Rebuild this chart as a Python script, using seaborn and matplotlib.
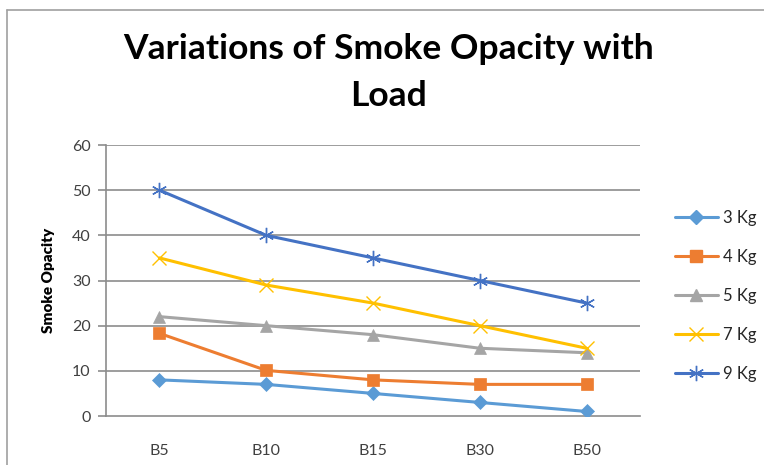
import matplotlib
matplotlib.use("Agg")
import matplotlib.pyplot as plt
import matplotlib.lines as mlines
import seaborn as sns
import pandas as pd

categories = ["B5", "B10", "B15", "B30", "B50"]
series_names = ["3 Kg", "4 Kg", "5 Kg", "7 Kg", "9 Kg"]
load_3kg = [8, 7, 5, 3, 1]
load_4kg = [18.3, 10.1, 8, 7, 7]
load_5kg = [22, 20, 18, 15, 14]
load_7kg = [35, 29, 25, 20, 15]
load_9kg = [50, 40, 35, 30, 25]
y_ticks = [0, 10, 20, 30, 40, 50, 60]

colors = ["#5B9BD5", "#ED7D31", "#A5A5A5", "#FFC000", "#4472C4"]
markers = ["D", "s", "^", "x", (6, 2, 0)]
marker_sizes = [7, 8, 8, 10, 11]

values = [load_3kg, load_4kg, load_5kg, load_7kg, load_9kg]
df = pd.DataFrame(
    [(c, v, name) for name, vals in zip(series_names, values) for c, v in zip(categories, vals)],
    columns=["Blend", "Smoke Opacity", "Load"],
)

sns.set_theme(style="white")
plt.rcParams["font.family"] = ["Lato", "DejaVu Sans"]

fig = plt.figure(figsize=(7.64, 4.65), dpi=100)
ax = fig.add_axes([106 / 764, 1 - 416 / 465, 534 / 764, 271 / 465])

grid_c = "#8C8C8C"
for t in y_ticks[1:]:
    ax.axhline(t, color=grid_c, lw=1.2, zorder=0)

for name, col, mk, ms in zip(series_names, colors, markers, marker_sizes):
    sub = df[df["Load"] == name]
    sns.lineplot(data=sub, x="Blend", y="Smoke Opacity", ax=ax, color=col,
                 marker=mk, markersize=ms, markeredgecolor=col,
                 markeredgewidth=1.0 if mk in ("x", (6, 2, 0)) else 0.5,
                 linewidth=2.2, sort=False, zorder=3, legend=False)

ax.set_xlim(-0.5, len(categories) - 0.5)
ax.set_ylim(0, 60)
ax.set_yticks(y_ticks)
ax.set_xticks(range(len(categories)))
ax.set_xticklabels(categories)
ax.set_xlabel("")
ax.set_ylabel("Smoke Opacity", fontsize=11, fontweight="heavy", color="black", labelpad=12)

for side in ("top", "right"):
    ax.spines[side].set_visible(False)
ax.spines["left"].set_color(grid_c)
ax.spines["left"].set_linewidth(1.2)
ax.spines["bottom"].set_color(grid_c)
ax.spines["bottom"].set_linewidth(1.2)
ax.tick_params(axis="y", which="both", left=True, length=6, width=1.2, color=grid_c,
               labelsize=11.5, labelcolor="#404040", pad=5)
ax.tick_params(axis="x", bottom=False, labelsize=11.5, labelcolor="#404040", pad=14)

fig.text(0.508, 1 - 49 / 465, "Variations of Smoke Opacity with", ha="center", va="center",
         fontsize=25.5, fontweight="bold", color="black")
fig.text(0.508, 1 - 96 / 465, "Load", ha="center", va="center",
         fontsize=25.5, fontweight="bold", color="black")

handles = [mlines.Line2D([], [], color=c, marker=m, markersize=ms, markeredgecolor=c,
                         linewidth=2.2, markeredgewidth=1.0)
           for c, m, ms in zip(colors, markers, marker_sizes)]
fig.legend(handles, series_names, loc="center left",
           bbox_to_anchor=(668 / 764, 1 - 296 / 465), frameon=False,
           fontsize=12, handlelength=2.6, handletextpad=0.3, labelspacing=1.38,
           borderaxespad=0)

# outer frame lines along the top and left edges
fig.add_artist(mlines.Line2D([7 / 764, 7 / 764], [0, 1 - 10 / 465], color="#A0A0A0", lw=1.2,
                             transform=fig.transFigure))
fig.add_artist(mlines.Line2D([7 / 764, 1], [1 - 10 / 465, 1 - 10 / 465], color="#A0A0A0", lw=1.2,
                             transform=fig.transFigure))

fig.savefig("out.png", dpi=100)
